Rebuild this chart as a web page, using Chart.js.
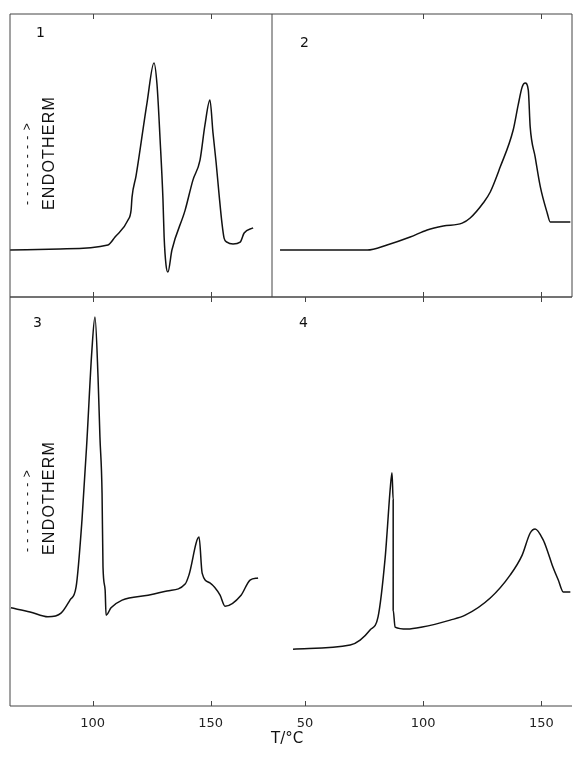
<!DOCTYPE html>
<html>
<head>
<meta charset="utf-8">
<script src="https://cdn.jsdelivr.net/npm/chart.js@4.4.0/dist/chart.umd.min.js"></script>
<style>
  body { margin: 0; background: #fff; width: 578px; height: 758px; position: relative; overflow: hidden; font-family: "DejaVu Sans", sans-serif; }
  canvas { position: absolute; }
  .lbl { position: absolute; color: #111; font-size: 14px; }
  .rot { position: absolute; transform: rotate(-90deg); transform-origin: left top; white-space: pre; color: #111; font-family: "Liberation Sans", sans-serif; }
  .endo { font-size: 16px; line-height: 16px; letter-spacing: 1.2px; }
  .arrow { font-size: 12px; line-height: 14px; letter-spacing: 1px; }
</style>
</head>
<body>
<canvas id="c1" width="266" height="287" style="left:8px;top:12px"></canvas>
<canvas id="c2" width="304" height="287" style="left:270px;top:12px"></canvas>
<canvas id="c3" width="266" height="439" style="left:8px;top:295px"></canvas>
<canvas id="c4" width="304" height="439" style="left:270px;top:295px"></canvas>

<div class="lbl" style="left:36px;top:24px">1</div>
<div class="lbl" style="left:300px;top:34px">2</div>
<div class="lbl" style="left:33px;top:314px">3</div>
<div class="lbl" style="left:299px;top:314px">4</div>
<div class="rot arrow" style="left:20px;top:205px">- - - - - - - - &gt;</div>
<div class="rot endo" style="left:41px;top:210px">ENDOTHERM</div>
<div class="rot arrow" style="left:20px;top:552px">- - - - - - - - &gt;</div>
<div class="rot endo" style="left:41px;top:555px">ENDOTHERM</div>
<div class="lbl" style="left:271px;top:729px;font-size:15px">T/°C</div>

<script>
// temperatures (°C) and signal (arbitrary units, 0-100) for each thermogram
var t1 = [65, 86.2, 106.5, 109.5, 115, 116.3, 116.7, 118.4, 123.1, 126, 127.3, 128.6, 129.8, 130.3, 131.1, 131.9, 133.6, 139.2, 142.5, 145.5, 147.6, 149.7, 151, 152.3, 153.6, 154.8, 155.7, 156.9, 159.5, 162.5, 164.2, 168];
var y1 = [16.6, 17, 18.4, 21.2, 27.2, 30.7, 35.3, 42.8, 68.9, 82.7, 74.9, 55.5, 34.6, 21.2, 11.3, 8.8, 16.6, 30.7, 41.3, 48.4, 60.8, 69.6, 58, 47.7, 36, 26.1, 20.8, 19.4, 18.7, 19.4, 22.6, 24.4];

var t2 = [39.4, 76.3, 84.7, 94.5, 101.7, 108.5, 116.5, 119.9, 125.4, 128.4, 132.6, 138.1, 140.2, 141.9, 143.2, 144.5, 145.3, 147.4, 149.6, 152.5, 153.8, 162.3];
var y2 = [16.6, 16.6, 18.4, 21.2, 23.7, 25.1, 26.1, 27.9, 33.2, 37.1, 45.9, 59, 67.8, 74.2, 75.6, 73.1, 60.1, 49.5, 38.9, 29.7, 26.5, 26.5];

var t3 = [65.4, 73.5, 81.1, 86.6, 90.4, 93, 95.5, 97.6, 99.7, 101, 102.3, 103.1, 104, 104.4, 105.3, 105.7, 107.8, 112.5, 123.5, 131.5, 139.2, 140.8, 145.1, 146.4, 149.7, 154, 156.1, 162.9, 166.7, 170.1];
var y3 = [24, 23, 21.8, 22.7, 25.9, 29.1, 45.5, 65, 87, 95.1, 80.4, 65.8, 52.1, 34, 28.4, 22.2, 24, 25.9, 27.1, 28.1, 29.8, 32, 41.3, 32.5, 30.1, 27.1, 24.4, 27.1, 30.8, 31.3];

var t4 = [44.9, 69.1, 73.3, 77.5, 80.9, 83.9, 84.7, 86, 86.8, 87.3, 87.3, 88.1, 93.2, 99.6, 111.4, 117.8, 128.4, 136.8, 141.9, 145.3, 147.4, 150.8, 152.5, 154.6, 157.2, 159.3, 162.3];
var y4 = [13.9, 14.9, 16.1, 18.6, 21.8, 36.2, 42.3, 52.8, 57, 50.4, 23.5, 19.3, 18.8, 19.3, 21, 22.2, 26.4, 32, 36.9, 42.3, 43.3, 40.6, 38.1, 34.5, 30.8, 27.9, 27.9];

var leftTicks = [100, 150];
var rightTicks = [50, 100, 150];

// draws the sides of the box round each plot area (t, b, l, r) and small inward ticks
var framePlugin = {
    id: 'frame',
    afterDraw: function(chart, args, opts) {
        var a = chart.chartArea, c = chart.ctx, s = opts.sides || 'tblr';
        c.save();
        c.strokeStyle = '#444';
        c.lineWidth = 1;
        c.beginPath();
        if (s.indexOf('t') >= 0) { c.moveTo(a.left, a.top); c.lineTo(a.right, a.top); }
        if (s.indexOf('b') >= 0) { c.moveTo(a.left, a.bottom); c.lineTo(a.right, a.bottom); }
        if (s.indexOf('l') >= 0) { c.moveTo(a.left, a.top); c.lineTo(a.left, a.bottom); }
        if (s.indexOf('r') >= 0) { c.moveTo(a.right, a.top); c.lineTo(a.right, a.bottom); }
        (opts.marks || []).forEach(function(v) {
            var px = Math.round(chart.scales.x.getPixelForValue(v)) + 0.5;
            c.moveTo(px, a.top); c.lineTo(px, a.top + 5);
            c.moveTo(px, a.bottom); c.lineTo(px, a.bottom - 5);
        });
        c.stroke();
        c.restore();
    }
};

function pts(t, y) {
    return t.map(function(v, i) { return {x: v, y: y[i]}; });
}

function makeChart(id, t, y, xmin, xmax, marks, showLabels, sides) {
    var xAxis = { type: 'linear', min: xmin, max: xmax, display: false };
    var pad = {top: 2, left: 2, right: 2, bottom: 2};
    if (showLabels) {
        pad.bottom = 0;
        xAxis = {
            type: 'linear', min: xmin, max: xmax, display: true,
            grid: { display: false },
            border: { display: false },
            ticks: { color: '#222', padding: 2, font: { family: 'DejaVu Sans', size: 13 } },
            afterBuildTicks: function(axis) { axis.ticks = marks.map(function(v) { return {value: v}; }); },
            afterFit: function(axis) { axis.height = 28; }
        };
    }
    return new Chart(document.getElementById(id).getContext('2d'), {
        type: 'line',
        data: {
            datasets: [{
                data: pts(t, y),
                borderColor: '#111',
                borderWidth: 1.5,
                pointRadius: 0,
                fill: false,
                cubicInterpolationMode: 'monotone'
            }]
        },
        options: {
            responsive: false,
            animation: false,
            layout: { padding: pad },
            plugins: { legend: { display: false }, tooltip: { enabled: false }, frame: { sides: sides, marks: marks } },
            scales: {
                x: xAxis,
                y: { min: 0, max: 100, display: false }
            }
        },
        plugins: [framePlugin]
    });
}

makeChart('c1', t1, y1, 65, 176, leftTicks, false, 'tblr');
makeChart('c2', t2, y2, 36, 163, [100, 150], false, 'tbr');
makeChart('c3', t3, y3, 65, 176, leftTicks, true, 'tbl');
makeChart('c4', t4, y4, 36, 163, rightTicks, true, 'tb');
</script>
</body>
</html>
